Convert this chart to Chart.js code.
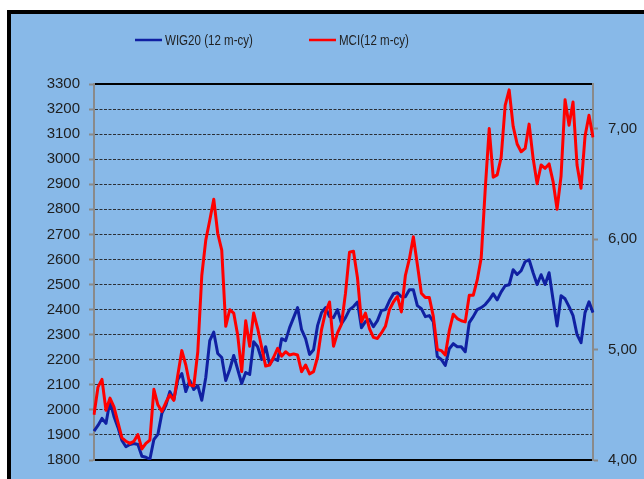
<!DOCTYPE html>
<html>
<head>
<meta charset="utf-8">
<script src="https://cdn.jsdelivr.net/npm/chart.js@4.4.1/dist/chart.umd.min.js"></script>
<style>
  html, body { margin: 0; padding: 0; background: #fff; overflow: hidden; }
  #panel {
    position: absolute; left: 7px; top: 10px; width: 700px; height: 520px;
    background: #88b9e8; border-top: 4px solid #000; border-left: 4px solid #000;
  }
  #chart { position: absolute; left: 0; top: 0; }
</style>
</head>
<body>
<div id="panel"></div>
<canvas id="chart" width="644" height="479"></canvas>
<script>
// series labels
const seriesNames = ['WIG20 (12 m-cy)', 'MCI(12 m-cy)'];

// WIG20, weekly (left axis)
const wig20 = [
  1915, 1938, 1966, 1946, 2035, 1974, 1930, 1878, 1853, 1862,
  1866, 1862, 1815, 1811, 1803, 1882, 1902, 1986, 2018, 2073,
  2041, 2121, 2145, 2073, 2117, 2081, 2097, 2038, 2129, 2276,
  2310, 2225, 2209, 2117, 2161, 2217, 2161, 2105, 2149, 2141,
  2272, 2252, 2201, 2252, 2181, 2205, 2197, 2284, 2276, 2328,
  2368, 2408, 2320, 2284, 2221, 2240, 2336, 2388, 2408, 2372,
  2368, 2400, 2344, 2368, 2400, 2412, 2430, 2328, 2352, 2360,
  2332, 2356, 2396, 2400, 2435, 2463, 2467, 2451, 2451, 2479,
  2479, 2416, 2404, 2372, 2376, 2352, 2213, 2201, 2177, 2244,
  2264, 2252, 2252, 2232, 2348, 2372, 2400, 2408, 2420, 2439,
  2463, 2439, 2471, 2495, 2499, 2559, 2540, 2555, 2591, 2599,
  2547, 2500, 2539, 2500, 2547, 2439, 2335, 2455, 2443, 2412,
  2376, 2300, 2268, 2388, 2431, 2388
];

// MCI, weekly (right axis)
const mci = [
  4.41, 4.66, 4.73, 4.45, 4.56, 4.48, 4.34, 4.20, 4.17, 4.15,
  4.17, 4.23, 4.10, 4.15, 4.18, 4.64, 4.50, 4.44, 4.52, 4.59,
  4.54, 4.77, 4.99, 4.86, 4.68, 4.67, 4.98, 5.67, 5.99, 6.17,
  6.36, 6.05, 5.90, 5.21, 5.36, 5.33, 5.13, 4.80, 5.26, 5.03,
  5.33, 5.19, 5.02, 4.85, 4.86, 4.93, 5.01, 4.94, 4.98, 4.95,
  4.96, 4.95, 4.80, 4.86, 4.78, 4.80, 4.93, 5.18, 5.34, 5.43,
  5.03, 5.15, 5.23, 5.51, 5.88, 5.89, 5.65, 5.25, 5.33, 5.19,
  5.11, 5.10, 5.15, 5.21, 5.36, 5.43, 5.48, 5.34, 5.67, 5.82,
  6.02, 5.77, 5.51, 5.47, 5.47, 5.30, 5.00, 4.99, 4.95, 5.17,
  5.32, 5.28, 5.26, 5.25, 5.49, 5.49, 5.63, 5.83, 6.45, 7.00,
  6.56, 6.58, 6.74, 7.21, 7.35, 7.02, 6.86, 6.79, 6.82, 7.04,
  6.73, 6.50, 6.67, 6.64, 6.68, 6.52, 6.27, 6.57, 7.26, 7.03,
  7.24, 6.67, 6.46, 6.93, 7.12, 6.92
];

// axis ticks
const wigRange = [1800, 3300];
const mciRange = [4, 7.403];
const mciTicks = [4, 5, 6, 7];

const weeks = wig20.map((_, i) => i + 1);

const tickFont = { family: "'Liberation Sans', Arial, sans-serif", size: 15 };
const tickColor = '#1e1e1e';
const axisGray = '#8a8a8a';

// legend drawn where Excel put it (text squeezed to a Calibri-like width)
const legendAt = {
  id: 'legendAt',
  afterDraw(chart) {
    const ctx = chart.ctx;
    const starts = [135, 309];
    ctx.save();
    ctx.font = "15px 'Liberation Sans', sans-serif";
    ctx.textBaseline = 'middle';
    chart.data.datasets.forEach(function(ds, i) {
      const x = starts[i], y = 40;
      ctx.strokeStyle = ds.borderColor;
      ctx.lineWidth = 2.5;
      ctx.beginPath();
      ctx.moveTo(x, y);
      ctx.lineTo(x + 27, y);
      ctx.stroke();
      ctx.save();
      ctx.translate(x + 30, y + 1);
      ctx.scale(0.77, 1);
      ctx.fillStyle = '#1f1f1f';
      ctx.fillText(ds.label, 0, 0);
      ctx.restore();
    });
    ctx.restore();
  }
};

new Chart(document.getElementById('chart'), {
  type: 'line',
  data: {
    labels: weeks,
    datasets: [
      {
        label: seriesNames[0],
        data: wig20,
        yAxisID: 'y',
        borderColor: '#1020a2',
        borderWidth: 3,
        pointRadius: 0,
        tension: 0,
        borderJoinStyle: 'round',
        order: 1
      },
      {
        label: seriesNames[1],
        data: mci,
        yAxisID: 'y1',
        borderColor: '#ff0000',
        borderWidth: 3,
        pointRadius: 0,
        tension: 0,
        borderJoinStyle: 'round',
        order: 0
      }
    ]
  },
  options: {
    responsive: false,
    animation: false,
    events: [],
    layout: { padding: { top: 84, left: 0, right: 0, bottom: 0 } },
    plugins: {
      legend: { display: false },
      tooltip: { enabled: false }
    },
    scales: {
      x: {
        type: 'category',
        offset: false,
        grid: { display: false },
        ticks: { display: false },
        border: { display: true, color: '#000', width: 2 },
        afterFit: function(s) { s.height = 18; }
      },
      xTop: {
        type: 'category',
        position: 'top',
        offset: false,
        grid: { display: false },
        ticks: { display: false },
        border: { display: true, color: '#000', width: 2 },
        afterFit: function(s) { s.height = 0; }
      },
      y: {
        position: 'left',
        min: wigRange[0],
        max: wigRange[1],
        ticks: {
          stepSize: 100,
          color: tickColor,
          font: tickFont,
          padding: 9,
          callback: function(v) { return String(v); }
        },
        grid: {
          color: function(c) {
            const v = c.tick && c.tick.value;
            return (v === wigRange[0] || v === wigRange[1]) ? 'rgba(0,0,0,0)' : '#2a2f36';
          },
          lineWidth: 1,
          tickColor: axisGray,
          tickLength: 5,
          tickWidth: 2
        },
        border: { display: true, color: axisGray, width: 2, dash: [3, 1.5] },
        afterFit: function(s) { s.width = 94; }
      },
      y1: {
        position: 'right',
        min: mciRange[0],
        max: mciRange[1],
        afterBuildTicks: function(s) { s.ticks = mciTicks.map(v => ({ value: v })); },
        ticks: {
          color: tickColor,
          font: tickFont,
          padding: 10,
          callback: function(v) { return Number(v).toFixed(2).replace('.', ','); }
        },
        grid: { drawOnChartArea: false, tickColor: axisGray, tickLength: 5, tickWidth: 2 },
        border: { display: true, color: axisGray, width: 2 },
        afterFit: function(s) { s.width = 51; }
      }
    }
  },
  plugins: [legendAt]
});
</script>
</body>
</html>
